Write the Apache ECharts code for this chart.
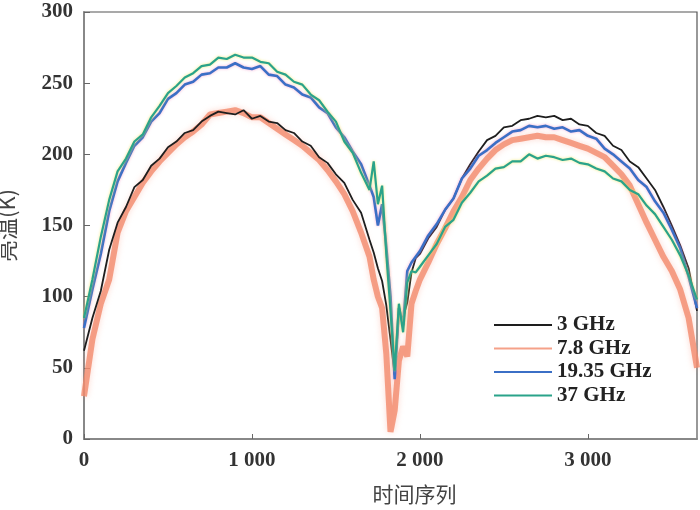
<!DOCTYPE html>
<html>
<head>
<meta charset="utf-8">
<script src="https://cdn.jsdelivr.net/npm/echarts@6/dist/echarts.min.js"></script>
<style>html,body{margin:0;padding:0;background:#fff}#c{width:700px;height:510px}</style>
</head>
<body>
<div id="c"></div>
<script>
const timeIdx = [0,50,100,150,200,250,300,350,400,450,500,550,600,650,700,750,800,850,900,950,1000,1050,1100,1150,1200,1250,1300,1350,1400,1450,1500,1550,1600,1650,1700,1725,1750,1775,1800,1825,1850,1875,1900,1925,1950,1975,2000,2050,2100,2150,2200,2250,2300,2350,2400,2450,2500,2550,2600,2650,2700,2750,2800,2850,2900,2950,3000,3050,3100,3150,3200,3250,3300,3350,3400,3450,3500,3550,3600,3650];
const seriesNames = ['3 GHz','7.8 GHz','19.35 GHz','37 GHz'];
const tb3 = [62,85,104,133,152,163,177,182,192,197,205,209,215,217,223,227,230,229,228,231,225,227,223,222,217,215,209,206,198,194,186,180,168,159,140,131,120,111,94,70,45,88,85,96,117,127,130,141,149,161,169,183,193,202,210,213,219,220,224,225,227,226,227,224,225,221,220,215,213,206,203,195,191,183,175,163,150,136,120,90];
const tb78 = [30,70,95,112,145,160,170,180,188,195,201,207,212,216,221,228,229,230,231,229,226,226,222,218,214,210,206,201,196,189,181,172,160,145,128,112,100,92,60,5,20,55,65,58,95,104,112,124,137,148,160,170,182,190,197,203,207,210,211,212,213,212,212,210,208,206,204,201,198,192,186,178,165,152,140,128,118,105,85,50];
const tb1935 = [78,105,130,160,181,194,206,212,223,229,239,243,249,251,256,257,261,261,264,261,260,262,256,255,249,247,242,240,233,229,219,212,202,193,178,170,150,165,135,100,42,92,80,118,124,128,132,143,151,161,169,183,190,199,203,208,212,216,217,220,219,220,218,219,216,217,213,211,204,200,195,190,182,177,167,159,147,134,114,92];
const tb37 = [85,112,142,168,188,197,209,214,226,234,243,248,254,257,262,263,268,267,270,268,268,265,264,258,256,251,249,242,238,230,223,209,201,187,175,195,165,178,130,90,48,95,75,110,118,117,121,129,137,149,154,166,173,181,185,190,191,195,195,200,197,199,198,196,197,194,193,190,188,183,181,175,172,164,158,149,140,129,115,98];
const yTicks = [0,50,100,150,200,250,300];

const pair = v => timeIdx.map((t,i)=>[t,v[i]]);
const font = '"Liberation Serif", "DejaVu Serif", serif';
const cjk = '"Noto Sans CJK SC", sans-serif';
const chart = echarts.init(document.getElementById('c'));
chart.setOption({
  animation:false,
  backgroundColor:'#fff',
  grid:{left:84,right:3,top:12,bottom:71,show:true,borderColor:'#555',borderWidth:1.2,outerBoundsMode:'none',containLabel:false},
  legend:{
    orient:'vertical', left:488, top:309, itemWidth:58, itemHeight:12, itemGap:1.5,
    data:seriesNames,
    itemStyle:{opacity:0},
    textStyle:{fontFamily:font,fontSize:21,lineHeight:22,fontWeight:'bold',color:'#222'}
  },
  xAxis:{
    type:'value', min:0, max:3650, interval:1000,
    name:'时间序列', nameLocation:'middle', nameGap:45,
    nameTextStyle:{fontFamily:cjk,fontSize:21,color:'#444',padding:[0,0,0,48]},
    axisLine:{lineStyle:{color:'#888',width:2}},
    axisTick:{inside:true,length:5,lineStyle:{color:'#666'}},
    splitLine:{show:false},
    axisLabel:{fontFamily:font,fontSize:21,fontWeight:'bold',color:'#333',margin:11,
      formatter:v=> v>=1000 ? String(v).replace(/(\d)(\d{3})$/,'$1 $2') : String(v),
      showMaxLabel:false}
  },
  yAxis:{
    type:'value', min:yTicks[0], max:yTicks[yTicks.length-1], interval:50,
    name:'亮温(K)', nameLocation:'middle', nameGap:66,
    nameTextStyle:{fontFamily:cjk,fontSize:22,color:'#444'},
    axisLine:{show:true,lineStyle:{color:'#888',width:2}},
    axisTick:{show:true,inside:true,length:6,lineStyle:{color:'#666'}},
    splitLine:{show:false},
    axisLabel:{fontFamily:font,fontSize:21,fontWeight:'bold',color:'#333',margin:11}
  },
  series:[
    {name:seriesNames[0],type:'line',data:pair(tb3),symbol:'none',z:3,
      lineStyle:{color:'#1e1e1e',width:1.8},itemStyle:{color:'#1e1e1e'}},
    {name:seriesNames[1],type:'line',data:pair(tb78),symbol:'none',z:2,
      lineStyle:{color:'#f38a6c',width:6,opacity:0.8,shadowBlur:6,shadowColor:'rgba(250,160,140,0.5)'},itemStyle:{color:'#f38a6c'}},
    {name:seriesNames[2],type:'line',data:pair(tb1935),symbol:'none',z:4,
      lineStyle:{color:'#3b6fc6',width:2.6,shadowBlur:3,shadowColor:'rgba(240,120,180,0.6)'},itemStyle:{color:'#3b6fc6'}},
    {name:seriesNames[3],type:'line',data:pair(tb37),symbol:'none',z:5,
      lineStyle:{color:'#2aa38a',width:2.2,shadowBlur:3,shadowColor:'rgba(240,230,90,0.8)'},itemStyle:{color:'#2aa38a'}}
  ]
});
</script>
</body>
</html>
